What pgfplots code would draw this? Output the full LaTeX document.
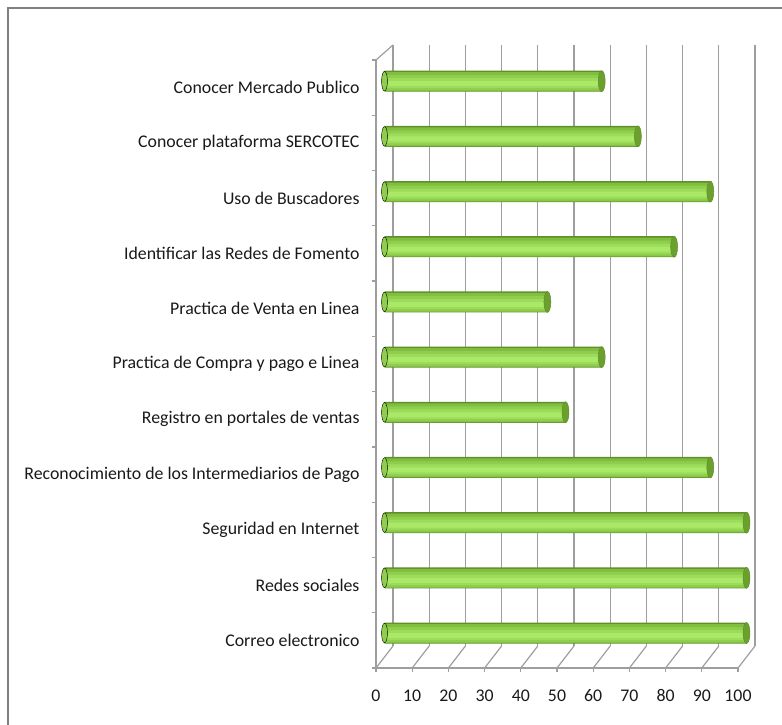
\documentclass[border=0pt]{standalone}
\usepackage{fontspec}
\setmainfont{Carlito}
\usepackage{pgfplots}
\usepackage{pgfplotstable}
\pgfplotsset{compat=1.18}

\definecolor{gridgray}{RGB}{158,158,158}
\definecolor{framegray}{RGB}{128,128,128}
\definecolor{barA}{RGB}{96,142,40}
\definecolor{barB}{RGB}{128,190,64}
\definecolor{barC}{RGB}{142,206,76}
\definecolor{barD}{RGB}{156,220,90}
\definecolor{barE}{RGB}{170,232,104}
\definecolor{capgreen}{RGB}{108,160,46}

% idx 0 = top category
\pgfplotstableread{
idx value
0 60
1 70
2 90
3 80
4 45
5 60
6 50
7 90
8 100
9 100
10 100
}\datatable

\begin{document}
\begin{tikzpicture}[x=1pt, y=1pt]
\useasboundingbox (0,0) rectangle (782,725);
\draw[framegray, line width=1.5pt] (8,-20) rectangle (800,717);

% back wall
\begin{axis}[
    at={(393pt,79pt)}, anchor=south west,
    scale only axis, width=362pt, height=601pt,
    xmin=0, xmax=100, ymin=0, ymax=1,
    axis line style={draw=none},
    xtick distance=10, xticklabels={}, ytick=\empty,
    major tick length=0pt,
    xmajorgrids,
    grid style={gridgray, line width=1.2pt},
  ]
\end{axis}

% front floor and left edge
\begin{axis}[
    at={(376pt,57pt)}, anchor=south west,
    scale only axis, width=362pt, height=608pt,
    xmin=0, xmax=100, ymin=0, ymax=11,
    y dir=reverse,
    axis x line*=bottom, axis y line*=left,
    axis line style={gridgray, line width=1.2pt, -},
    tick style={gridgray, line width=1.2pt},
    tick align=outside, major tick length=4pt,
    xtick distance=10,
    ytick={0,...,11}, yticklabels={},
    extra y ticks={0.5,1.5,...,10.5},
    extra y tick labels={Conocer Mercado Publico, Conocer plataforma SERCOTEC,
      Uso de Buscadores, Identificar las Redes de Fomento,
      Practica de Venta en Linea, Practica de Compra y pago e Linea,
      Registro en portales de ventas, Reconocimiento de los Intermediarios de Pago,
      Seguridad en Internet, Redes sociales, Correo electronico},
    extra y tick style={major tick length=0pt, tick style={draw=none},
      yticklabel style={xshift=-13pt}},
    ticklabel style={font=\fontsize{17.8}{21}\selectfont, text=black!90},
    xticklabel style={yshift=-14pt},
    /pgf/number format/assume math mode=true,
    clip=false,
  ]
\end{axis}

% depth lines
\draw[gridgray, line width=1.2pt] (376,665) -- (393,680);
\foreach \v in {0,10,...,100}
  \draw[gridgray, line width=1.2pt] ({376+3.62*\v},57) -- ({393+3.62*\v},79);

% bars (cylinders built from layered bars)
\begin{axis}[
    at={(384.5pt,64.4pt)}, anchor=south west,
    scale only axis, width=362pt, height=607pt,
    xmin=0, xmax=100, ymin=-0.5, ymax=10.5,
    y dir=reverse,
    hide axis, clip=false,
  ]
\addplot[xbar, bar width=21pt, draw=none, fill=barA]
  table[x=value, y=idx] {\datatable};
\addplot[xbar, bar width=19pt, bar shift=-0.5pt, draw=none, fill=barB]
  table[x=value, y=idx] {\datatable};
\addplot[xbar, bar width=15pt, bar shift=-1.5pt, draw=none, fill=barC]
  table[x=value, y=idx] {\datatable};
\addplot[xbar, bar width=10pt, bar shift=-2pt, draw=none, fill=barD]
  table[x=value, y=idx] {\datatable};
\addplot[xbar, bar width=5pt, bar shift=-2.5pt, draw=none, fill=barE]
  table[x=value, y=idx] {\datatable};
% rounded start and end caps
\addplot[only marks, mark=*, mark size=9.8pt,
  mark options={xscale=0.3, fill=barC, draw=none}]
  table[x expr=0, y=idx] {\datatable};
\addplot[only marks, mark=*, mark size=10.5pt,
  mark options={xscale=0.33, fill=capgreen, draw=barA, line width=0.5pt}]
  table[x=value, y=idx] {\datatable};
\end{axis}
\end{tikzpicture}
\end{document}
